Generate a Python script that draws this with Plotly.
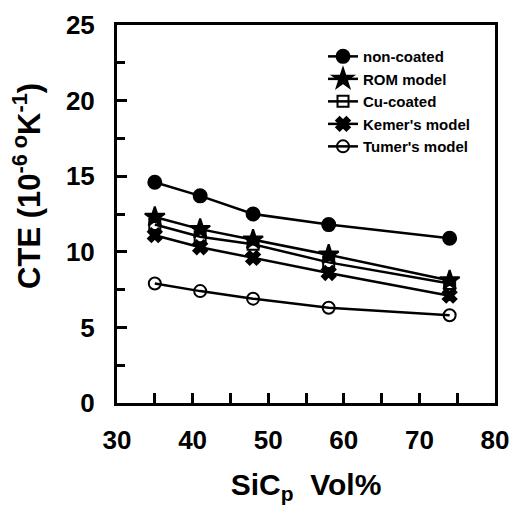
import plotly.graph_objects as go

vol = [35, 41, 48, 58, 74]
non_coated = [14.6, 13.7, 12.5, 11.8, 10.9]
rom_model = [12.3, 11.5, 10.8, 9.8, 8.1]
cu_coated = [11.8, 11.0, 10.5, 9.3, 7.9]
kerner = [11.1, 10.3, 9.6, 8.6, 7.1]
turner = [7.9, 7.4, 6.9, 6.3, 5.8]

names = ["non-coated", "ROM model", "Cu-coated", "Kemer's model", "Tumer's model"]
series = [non_coated, rom_model, cu_coated, kerner, turner]
symbols = ["circle", "star", "square-open", "x", "circle-open"]
sizes = [13, 15, 11, 12, 12]

fig = go.Figure()
for n, s, sym, sz in zip(names, series, symbols, sizes):
    fig.add_trace(go.Scatter(
        x=vol, y=s, name=n, mode="lines+markers",
        line=dict(color="black", width=2.5),
        marker=dict(symbol=sym, size=sz, color="black",
                    line=dict(color="black", width=2)),
    ))

axis_common = dict(
    showline=True, linecolor="black", linewidth=3, mirror=True,
    ticks="inside", tickcolor="black", tickwidth=3, ticklen=10,
    showgrid=False, zeroline=False, automargin=False,
    tickfont=dict(family="Arial", size=26, color="black", weight="bold"),
)

fig.update_layout(
    width=514, height=506,
    margin=dict(l=117, r=19, t=25, b=103),
    plot_bgcolor="white", paper_bgcolor="white",
    font=dict(family="Arial", color="black"),
    xaxis=dict(range=[30, 80], tickvals=[30, 40, 50, 60, 70, 80], ticklabelstandoff=12,
               minor=dict(tickvals=[35, 45, 55, 65, 75], ticks="inside", ticklen=10,
                          tickwidth=3, tickcolor="black"),
               title=dict(text="SiC<sub>p</sub>  Vol%", font=dict(size=30, weight="bold"), standoff=20),
               **axis_common),
    yaxis=dict(range=[0, 25], tickvals=[0, 5, 10, 15, 20, 25], ticklabelstandoff=14,
               minor=dict(tickvals=[2.5, 7.5, 12.5, 17.5, 22.5], ticks="inside", ticklen=8,
                          tickwidth=3, tickcolor="black"),
               **axis_common),
    legend=dict(x=0.545, y=0.96, xanchor="left", yanchor="top",
                bgcolor="rgba(0,0,0,0)", borderwidth=0,
                font=dict(family="Arial", size=15, color="black", weight="bold"),
                tracegroupgap=0),
    showlegend=True,
)

fig.add_annotation(
    text="CTE (10<sup>-6 o</sup>K<sup>-1</sup>)",
    xref="paper", yref="paper", x=-0.24, y=0.575,
    xanchor="center", yanchor="middle", textangle=-90, showarrow=False,
    font=dict(family="Arial", size=31, color="black", weight="bold"),
)

fig.write_html("out.html")
